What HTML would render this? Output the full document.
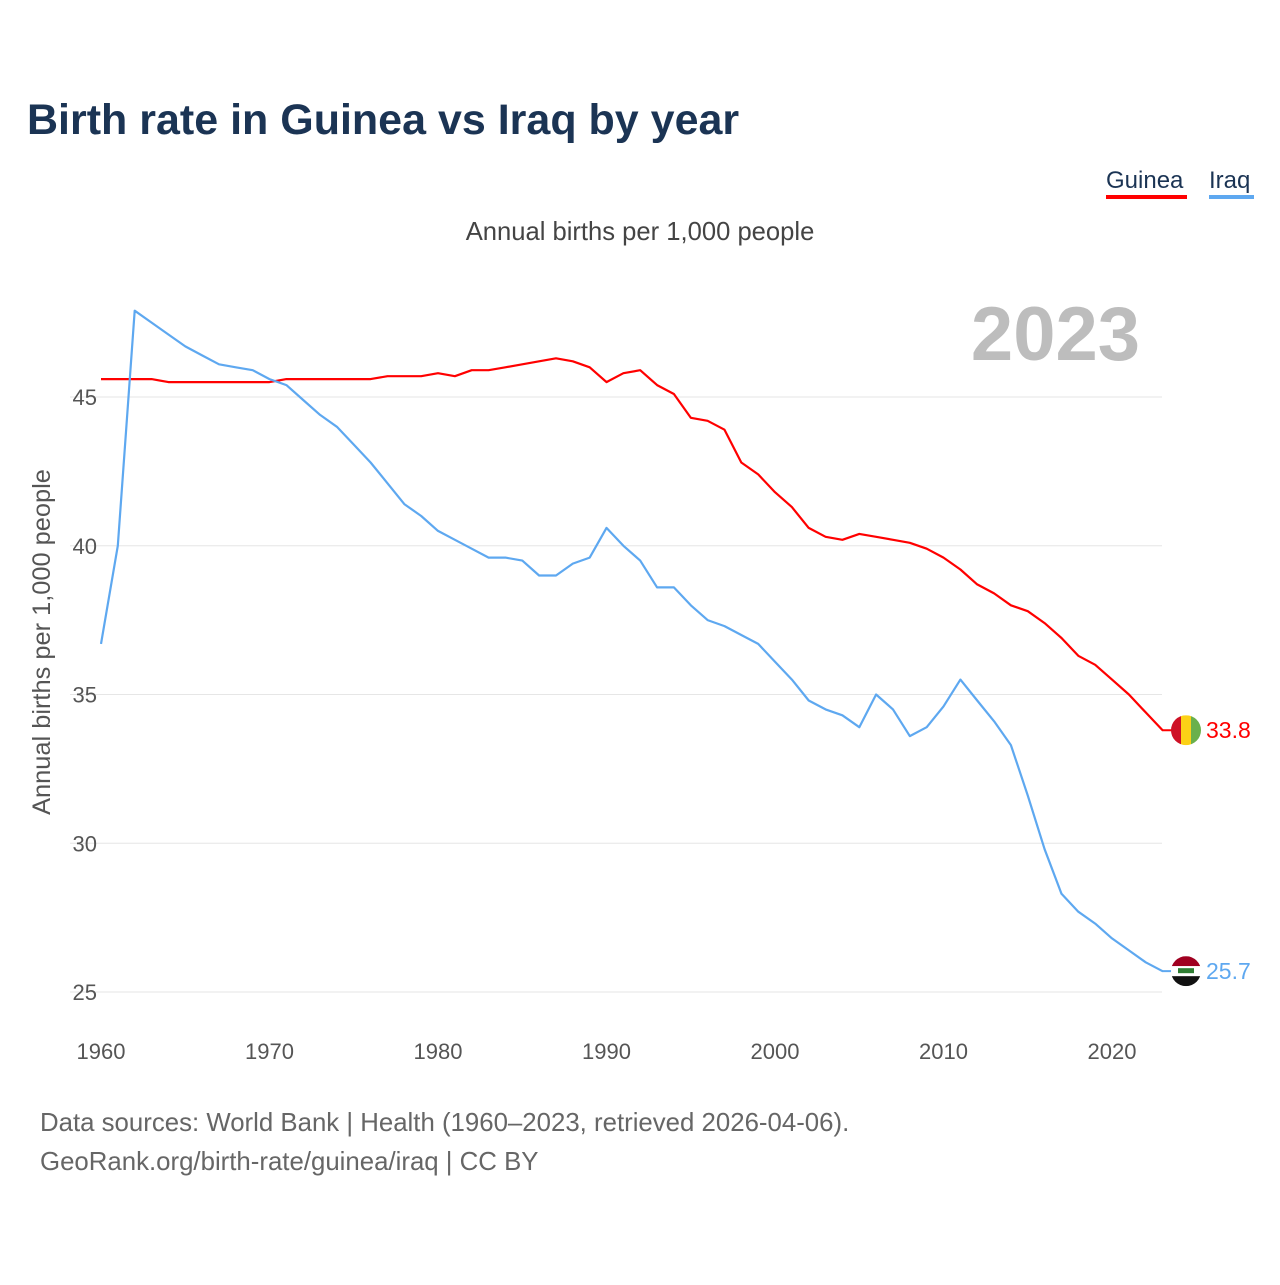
<!DOCTYPE html>
<html><head><meta charset="utf-8"><style>
body{margin:0;background:#fff;font-family:"Liberation Sans",sans-serif;}
svg text{font-family:"Liberation Sans",sans-serif;}
</style></head><body>
<svg id="chart" width="1280" height="1280" xmlns="http://www.w3.org/2000/svg">
<text x="27" y="134" font-size="43" font-weight="bold" fill="#1b3454">Birth rate in Guinea vs Iraq by year</text>
<g><text x="1106" y="188" font-size="24" fill="#1b3454">Guinea</text><rect x="1106" y="195" width="81" height="4" fill="#ff0000"/></g>
<g><text x="1209" y="188" font-size="24" fill="#1b3454">Iraq</text><rect x="1209" y="195" width="45" height="4" fill="#5ea8f0"/></g>
<text x="640" y="240" text-anchor="middle" font-size="25.6" fill="#444">Annual births per 1,000 people</text>
<text x="1140" y="360" text-anchor="end" font-size="76" font-weight="bold" fill="#bdbdbd">2023</text>
<text transform="translate(50,642) rotate(-90)" text-anchor="middle" font-size="25.4" fill="#555">Annual births per 1,000 people</text>
<g id="grid"></g><g id="series"></g><g id="labels"></g>
<text x="40" y="1131" font-size="25.8" fill="#666">Data sources: World Bank | Health (1960–2023, retrieved 2026-04-06).</text>
<text x="40" y="1170" font-size="25.8" fill="#666">GeoRank.org/birth-rate/guinea/iraq | CC BY</text>
</svg>
<script>
const years=[];for(let y=1960;y<=2023;y++)years.push(y);
const guinea=[45.6,45.6,45.6,45.6,45.5,45.5,45.5,45.5,45.5,45.5,45.5,45.6,45.6,45.6,45.6,45.6,45.6,45.7,45.7,45.7,45.8,45.7,45.9,45.9,46.0,46.1,46.2,46.3,46.2,46.0,45.5,45.8,45.9,45.4,45.1,44.3,44.2,43.9,42.8,42.4,41.8,41.3,40.6,40.3,40.2,40.4,40.3,40.2,40.1,39.9,39.6,39.2,38.7,38.4,38.0,37.8,37.4,36.9,36.3,36.0,35.5,35.0,34.4,33.8];
const iraq=[36.7,40.0,47.9,47.5,47.1,46.7,46.4,46.1,46.0,45.9,45.6,45.4,44.9,44.4,44.0,43.4,42.8,42.1,41.4,41.0,40.5,40.2,39.9,39.6,39.6,39.5,39.0,39.0,39.4,39.6,40.6,40.0,39.5,38.6,38.6,38.0,37.5,37.3,37.0,36.7,36.1,35.5,34.8,34.5,34.3,33.9,35.0,34.5,33.6,33.9,34.6,35.5,34.8,34.1,33.3,31.6,29.8,28.3,27.7,27.3,26.8,26.4,26.0,25.7];
const yTicks=[25,30,35,40,45];
const xTicks=[1960,1970,1980,1990,2000,2010,2020];
const NS="http://www.w3.org/2000/svg";
const xs=y=>101+(y-1960)*(1011/60);
const ys=v=>397-(v-45)*29.75;
function mk(t,a,p){const e=document.createElementNS(NS,t);for(const k in a)e.setAttribute(k,a[k]);p.appendChild(e);return e;}
const grid=document.getElementById('grid'),ser=document.getElementById('series'),lab=document.getElementById('labels');
yTicks.forEach(v=>{
 const l=mk('line',{x1:70,x2:1162,y1:ys(v),y2:ys(v),stroke:'#e6e6e6','stroke-width':1},grid);
 
 
 const t=mk('text',{x:97,y:ys(v)+8,'text-anchor':'end','font-size':22,fill:'#555'},grid);t.textContent=v;
 
 
});
xTicks.forEach(v=>{
 const t=mk('text',{x:xs(v),y:1059,'text-anchor':'middle','font-size':22,fill:'#555'},grid);t.textContent=v;
 
 
});
function line(data,color,name){
 const d=data.map((v,i)=>(i?'L':'M')+xs(years[i]).toFixed(1)+','+ys(v).toFixed(1)).join('');
 const p=mk('path',{d:d,fill:'none',stroke:color,'stroke-width':2.2,'stroke-linejoin':'round'},ser);
 
 
}
line(guinea,'#ff0000','guinea-line');
line(iraq,'#5ea8f0','iraq-line');
function endLabel(v,color,name,flag){
 const y=ys(v);
 mk('line',{x1:1162,x2:1186,y1:y,y2:y,stroke:color,'stroke-width':2},lab);
 const g=mk('g',{},lab);
 
 
 const cid='c'+name;const cp=mk('clipPath',{id:cid},g);mk('circle',{cx:1186,cy:y,r:15},cp);
 const gg=mk('g',{'clip-path':'url(#'+cid+')'},g);
 if(flag==='gn'){mk('rect',{x:1171,y:y-15,width:10,height:30,fill:'#ce1126'},gg);mk('rect',{x:1181,y:y-15,width:10,height:30,fill:'#fcd116'},gg);mk('rect',{x:1191,y:y-15,width:10,height:30,fill:'#6ab04c'},gg);}
 else{mk('rect',{x:1171,y:y-15,width:30,height:10,fill:'#a00020'},gg);mk('rect',{x:1171,y:y-5,width:30,height:10,fill:'#fff'},gg);mk('rect',{x:1171,y:y+5,width:30,height:10,fill:'#111'},gg);mk('rect',{x:1178,y:y-3,width:16,height:5,fill:'#2e7d32'},gg);}
 const t=mk('text',{x:1206,y:y+8,'font-size':23,fill:color},lab);t.textContent=v.toFixed(1);
 
 
}
endLabel(guinea[guinea.length-1],'#ff0000','guinea','gn');
endLabel(iraq[iraq.length-1],'#5ea8f0','iraq','iq');
</script>
</body></html>
